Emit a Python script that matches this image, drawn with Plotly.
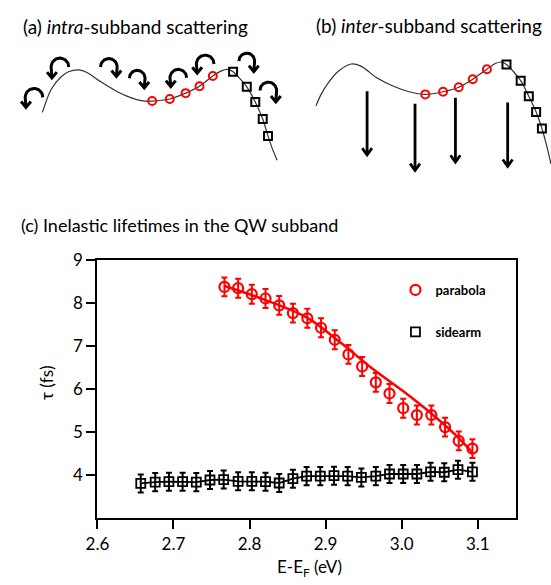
import numpy as np
import plotly.graph_objects as go

W, H = 551, 585

# ---------------- data (panel c) ----------------
parabola_x = [2.767, 2.785, 2.803, 2.821, 2.839, 2.857, 2.876, 2.894, 2.912, 2.930,
              2.948, 2.966, 2.984, 3.002, 3.020, 3.039, 3.057, 3.075, 3.093]
parabola_y = [8.38, 8.35, 8.21, 8.11, 7.95, 7.77, 7.65, 7.43, 7.15, 6.81,
              6.53, 6.16, 5.90, 5.56, 5.40, 5.40, 5.12, 4.80, 4.62]
parabola_err = [0.22] * 19

fit_x = [2.767, 2.82, 2.876, 2.92, 2.96, 3.00, 3.04, 3.07, 3.093]
fit_y = [8.40, 8.08, 7.66, 7.08, 6.50, 5.98, 5.42, 4.95, 4.53]

sidearm_x = [2.657, 2.676, 2.694, 2.712, 2.730, 2.748, 2.766, 2.785, 2.803, 2.821,
             2.839, 2.857, 2.875, 2.893, 2.911, 2.929, 2.947, 2.966, 2.984, 3.002,
             3.020, 3.038, 3.056, 3.074, 3.093]
sidearm_y = [3.81, 3.84, 3.85, 3.85, 3.84, 3.89, 3.90, 3.86, 3.86, 3.85,
             3.82, 3.92, 3.98, 3.98, 3.99, 3.98, 3.95, 3.98, 4.03, 4.03,
             4.03, 4.08, 4.07, 4.13, 4.08]
sidearm_err = [0.21] * 25

x_ticks = [2.6, 2.7, 2.8, 2.9, 3.0, 3.1]
x_ticktext = ["2.6", "2.7", "2.8", "2.9", "3.0", "3.1"]
y_ticks = [4, 5, 6, 7, 8, 9]

# ---------------- schematic panels (a), (b) in pixel units ----------------
band_a_x = [31, 40, 50, 58.3, 68.3, 76.7, 90, 106.7, 122, 132, 143.3, 161.3, 177.5,
            191.7, 205.3, 214, 221, 226, 233, 240, 248.7, 256.3, 261.7, 266, 271]
band_a_y = [103.3, 80, 67.3, 61.7, 60, 62.7, 71.7, 81.7, 88.5, 91.3, 91.8, 89.7, 83.7,
            76.7, 66.3, 61, 59.5, 62, 69, 77.3, 92.7, 110, 127.3, 140, 152]
circ_a_x = [143.3, 161.3, 177.5, 191.7, 205.3]
circ_a_y = [91.7, 89.7, 83.7, 76.7, 66.3]
sq_a_x = [226, 240, 248.7, 256.3, 261.7]
sq_a_y = [62, 77.3, 92.7, 110, 127.3]

band_b_x = [310.7, 316, 323.3, 333.3, 346.7, 356.7, 373.3, 390, 405, 422.5, 440.7,
            456.7, 471, 485.5, 494, 500, 505.5, 520, 528.3, 535.8, 541.7, 546, 551]
band_b_y = [96.7, 85, 73.3, 61.7, 54, 56.2, 68.3, 76.7, 82, 85, 82.3,
            77.7, 69.5, 59.3, 53.5, 52, 54.5, 71, 87, 103, 119.7, 135, 156]
circ_b_x = [422.5, 440.7, 456.7, 471, 485.5]
circ_b_y = [85, 82.3, 77.7, 69.5, 59.3]
sq_b_x = [505.5, 520, 528.3, 535.8, 541.7]
sq_b_y = [54.5, 71, 87, 103, 119.7]

# curled arrows of panel (a): centre, radius, side of arrow-head (-1 left, +1 right), tip height
curl_cx = [22.5, 49, 99, 128, 170, 197.5, 240, 262]
curl_cy = [88, 57, 57, 68.5, 68, 54, 51, 81]
curl_r = [9, 9, 8.5, 8, 8.5, 9, 8, 8.5]
curl_side = [-1, -1, 1, 1, -1, -1, 1, 1]
curl_tip = [98.3, 68.3, 66.7, 78.3, 77, 63.3, 61.7, 92.7]

# straight arrows of panel (b)
down_x = [363, 412, 453.3, 506.7]
down_y0 = [81.7, 94.5, 88.5, 93.3]
down_y1 = [146.7, 162.5, 154, 158.3]

FONT = "Lato"

fig = go.Figure()

# ---- panel (c) traces ----
fig.add_trace(go.Scatter(x=fit_x, y=fit_y, mode="lines", line=dict(color="#ff0000", width=2.5, shape="spline"),
                         showlegend=False, hoverinfo="skip"))
fig.add_trace(go.Scatter(x=sidearm_x, y=sidearm_y, mode="lines", line=dict(color="black", width=1.8),
                         showlegend=False, hoverinfo="skip"))
fig.add_trace(go.Scatter(x=parabola_x, y=parabola_y, mode="markers", name="<b>parabola</b>",
                         marker=dict(symbol="circle-open", size=10, color="#ff0000", line=dict(width=2.2)),
                         error_y=dict(type="data", array=parabola_err, color="#ff0000", thickness=2, width=3),
                         legendgroup="p"))
fig.add_trace(go.Scatter(x=sidearm_x, y=sidearm_y, mode="markers", name="<b>sidearm</b>",
                         marker=dict(symbol="square-open", size=9, color="black", line=dict(width=1.8)),
                         error_y=dict(type="data", array=sidearm_err, color="black", thickness=2, width=3),
                         legendgroup="s"))

# ---- panel (a)/(b) traces on pixel axes ----
for bx, by in [(band_a_x, band_a_y), (band_b_x, band_b_y)]:
    fig.add_trace(go.Scatter(x=bx, y=by, mode="lines", xaxis="x2", yaxis="y2",
                             line=dict(color="#333333", width=1.2, shape="spline", smoothing=0.8),
                             showlegend=False, hoverinfo="skip"))
for cx_, cy_ in [(circ_a_x, circ_a_y), (circ_b_x, circ_b_y)]:
    fig.add_trace(go.Scatter(x=cx_, y=cy_, mode="markers", xaxis="x2", yaxis="y2",
                             marker=dict(symbol="circle-open", size=8, color="#ff0000", line=dict(width=2)),
                             showlegend=False, hoverinfo="skip"))
for sx_, sy_ in [(sq_a_x, sq_a_y), (sq_b_x, sq_b_y)]:
    fig.add_trace(go.Scatter(x=sx_, y=sy_, mode="markers", xaxis="x2", yaxis="y2",
                             marker=dict(symbol="square-open", size=8, color="black", line=dict(width=2)),
                             showlegend=False, hoverinfo="skip"))

# curled arrows
ax_, ay_ = [], []
for cx, cy, r, side, tip in zip(curl_cx, curl_cy, curl_r, curl_side, curl_tip):
    th = np.linspace(0, np.pi, 25) if side < 0 else np.linspace(np.pi, 0, 25)
    xs = list(cx + r * np.cos(th))
    ys = list(cy - r * np.sin(th))
    tx = cx + side * (r - 0.8)
    xs += [tx]
    ys += [tip]
    ax_ += xs + [None, tx - 5, tx, tx + 5, None]
    ay_ += ys + [None, tip - 6, tip, tip - 6, None]
fig.add_trace(go.Scatter(x=ax_, y=ay_, mode="lines", xaxis="x2", yaxis="y2",
                         line=dict(color="black", width=3), showlegend=False, hoverinfo="skip"))

# straight down arrows
dx_, dy_ = [], []
for x0, y0, y1 in zip(down_x, down_y0, down_y1):
    dx_ += [x0, x0, None, x0 - 5, x0, x0 + 5, None]
    dy_ += [y0, y1, None, y1 - 7, y1, y1 - 7, None]
fig.add_trace(go.Scatter(x=dx_, y=dy_, mode="lines", xaxis="x2", yaxis="y2",
                         line=dict(color="black", width=2.8), showlegend=False, hoverinfo="skip"))


def px(p):
    return p / W


def py(p):
    return 1 - p / H


annotations = [
    dict(text="(a) <i>intra</i>-subband scattering", x=px(9), y=py(16), xanchor="left", yanchor="middle",
         font=dict(size=19)),
    dict(text="(b) <i>inter</i>-subband scattering", x=px(309), y=py(15), xanchor="left", yanchor="middle",
         font=dict(size=19)),
    dict(text="(c) Inelastic lifetimes in the QW subband", x=px(7), y=py(218), xanchor="left",
         yanchor="middle", font=dict(size=18)),
    dict(text="\u03c4 (fs)", x=px(36), y=py(379), xanchor="center", yanchor="middle", textangle=-90,
         font=dict(size=17)),
    dict(text="E-E<sub>F</sub> (eV)", x=px(304), y=py(568), xanchor="center", yanchor="middle",
         font=dict(size=17)),
]
for a in annotations:
    a["font"].update(family=FONT, color="black")
    a.update(xref="paper", yref="paper", showarrow=False)

fig.update_layout(
    width=W, height=H, margin=dict(l=0, r=0, t=0, b=0),
    paper_bgcolor="white", plot_bgcolor="white",
    font=dict(family=FONT, color="black"),
    xaxis=dict(domain=[px(87.3), px(515)], range=[2.6, 3.15], tickvals=x_ticks, ticktext=x_ticktext,
               ticks="outside", ticklen=9, tickwidth=2, tickcolor="black", showline=True, linewidth=2,
               linecolor="black", mirror=True, showgrid=False, zeroline=False,
               tickfont=dict(family=FONT, size=17, color="black"), anchor="y"),
    yaxis=dict(domain=[py(517), py(254)], range=[3, 9], tickvals=y_ticks,
               ticks="outside", ticklen=9, tickwidth=2, tickcolor="black", showline=True, linewidth=2,
               linecolor="black", mirror=True, showgrid=False, zeroline=False,
               tickfont=dict(family=FONT, size=17, color="black"), anchor="x"),
    xaxis2=dict(domain=[0, 1], range=[0, W], visible=False, anchor="y2", fixedrange=True),
    yaxis2=dict(domain=[py(185), 1], range=[185, 0], visible=False, anchor="x2", fixedrange=True),
    legend=dict(x=px(392), y=py(269), xanchor="left", yanchor="top", bgcolor="rgba(0,0,0,0)",
                font=dict(family=FONT, size=13, color="black"), tracegroupgap=22, itemwidth=30),
    annotations=annotations,
)

fig.write_html("out.html", config={"displayModeBar": False},
               post_script="document.body.style.margin='0';document.body.style.padding='0';")
